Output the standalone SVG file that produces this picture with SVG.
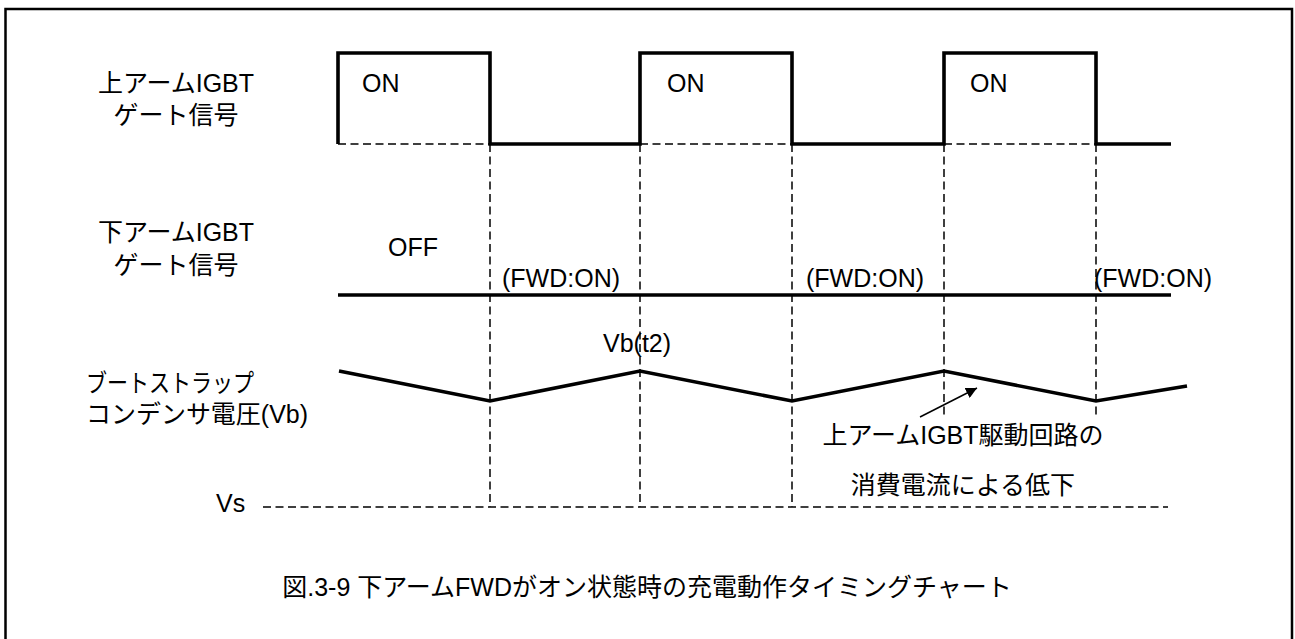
<svg xmlns="http://www.w3.org/2000/svg" width="1295" height="639" viewBox="0 0 1295 639">
<defs>
<style>
text{font-family:"Liberation Sans","Noto Sans CJK JP",sans-serif;font-size:25px;fill:#000}
.sig{fill:none;stroke:#000;stroke-width:3.6;stroke-linejoin:miter}
.dash{fill:none;stroke:#000;stroke-width:1.5;stroke-dasharray:8 4.5}
.mid{text-anchor:middle}
</style>
<marker id="ah" viewBox="0 0 10 10" refX="10" refY="5" markerWidth="11" markerHeight="11" markerUnits="userSpaceOnUse" orient="auto">
<path d="M0,0 L10,5 L0,10 z" fill="#000"/>
</marker>
</defs>
<rect width="1295" height="639" fill="#fff"/>
<path d="M5.5,645 V9 H1292 V645" fill="none" stroke="#000" stroke-width="2.5"/>

<g id="connectors">
<path class="dash" d="M338,144 H490 M640,144 H792 M944,144 H1096"/>
<path class="dash" d="M490,144 V507 M640,144 V507 M792,144 V507 M944,144 V507 M1096,144 V507"/>
<path class="dash" d="M263,507 H1168"/>
</g>

<g id="upper-gate">
<text class="mid" x="176" y="92">上アームIGBT</text>
<text class="mid" x="176" y="124">ゲート信号</text>
<path class="sig" d="M338,144 V53 H490 V144 H640 V53 H792 V144 H944 V53 H1096 V144 H1171"/>
<text x="362" y="92">ON</text>
<text x="667" y="92">ON</text>
<text x="970" y="92">ON</text>
</g>

<g id="lower-gate">
<text class="mid" x="176" y="241">下アームIGBT</text>
<text class="mid" x="176" y="274">ゲート信号</text>
<path class="sig" d="M338,295 H1171"/>
<text x="388" y="256">OFF</text>
<text x="502" y="287">(FWD:ON)</text>
<text x="806" y="287">(FWD:ON)</text>
<text x="1094" y="287">(FWD:ON)</text>
</g>

<g id="bootstrap">
<text x="86" y="392" textLength="168" lengthAdjust="spacingAndGlyphs">ブートストラップ</text>
<text x="86" y="423" textLength="222" lengthAdjust="spacingAndGlyphs">コンデンサ電圧(Vb)</text>
<path class="sig" d="M339,371 L490,401 L640,371 L792,401 L944,371 L1096,401 L1187,386"/>
<text x="603" y="352">Vb(t2)</text>
</g>

<g id="vs">
<text x="216" y="512">Vs</text>
</g>

<g id="annotation">
<rect x="806" y="418" width="318" height="84" fill="#fff"/>
<line x1="920" y1="417" x2="977" y2="388" stroke="#000" stroke-width="1.5" marker-end="url(#ah)"/>
<text class="mid" x="963" y="444">上アームIGBT駆動回路の</text>
<text class="mid" x="963" y="494">消費電流による低下</text>
</g>

<g id="caption">
<text class="mid" x="647" y="596">図.3-9 下アームFWDがオン状態時の充電動作タイミングチャート</text>
</g>
</svg>
